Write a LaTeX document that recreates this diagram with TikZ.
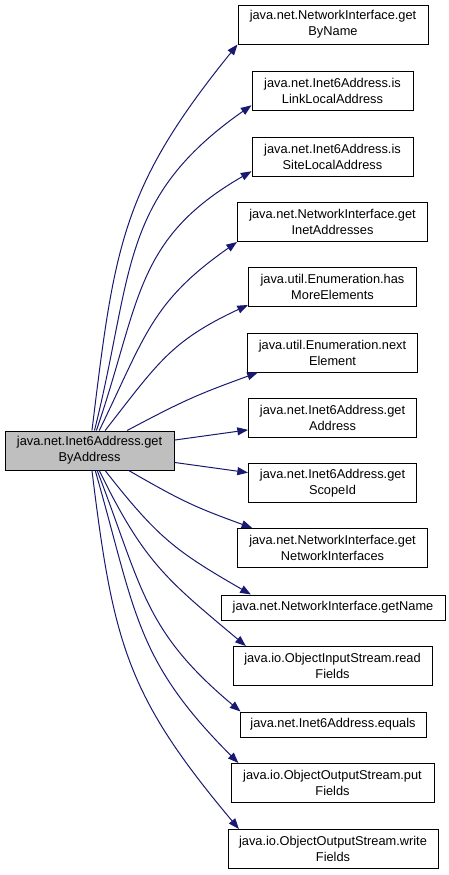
\documentclass[tikz,border=0pt]{standalone}
\usepackage{fontspec}
\setmainfont{Liberation Sans}
\usetikzlibrary{arrows.meta}
\definecolor{edgeblue}{RGB}{25,25,112}
\definecolor{rootgray}{RGB}{191,191,191}

\begin{document}
\begin{tikzpicture}[
  x=0.75pt,y=0.75pt,
  fn/.style={draw=black,line width=0.75pt,fill=white,minimum height=39*0.75pt,inner sep=1pt,align=center,font=\fontsize{9.6}{12}\selectfont},
  single/.style={fn,minimum height=25*0.75pt},
  root/.style={fn,fill=rootgray},
  arr/.style={-{Triangle[length=8pt,width=6pt]},draw=edgeblue,line width=0.75pt,looseness=1.15}
]
\useasboundingbox (0,0) rectangle (449,-875);

\node[root,minimum width=169*0.75pt] (getbyaddr) at (89.5,-450.5) {java.net.Inet6Address.get\\ByAddress};

\node[fn,minimum width=190*0.75pt]     (byname)    at (333,-24.5)  {java.net.NetworkInterface.get\\ByName};
\node[fn,minimum width=161*0.75pt]     (linklocal) at (332.5,-91)  {java.net.Inet6Address.is\\LinkLocalAddress};
\node[fn,minimum width=161*0.75pt]     (sitelocal) at (332.5,-157) {java.net.Inet6Address.is\\SiteLocalAddress};
\node[fn,minimum width=190*0.75pt]     (inetaddrs) at (332.5,-222) {java.net.NetworkInterface.get\\InetAddresses};
\node[fn,minimum width=168*0.75pt]     (hasmore)   at (332.5,-287) {java.util.Enumeration.has\\MoreElements};
\node[fn,minimum width=170*0.75pt]     (nextelem)  at (332.5,-352.5) {java.util.Enumeration.next\\Element};
\node[fn,minimum width=168*0.75pt]     (getaddr)   at (332.5,-418) {java.net.Inet6Address.get\\Address};
\node[fn,minimum width=168*0.75pt]     (scopeid)   at (332.5,-483) {java.net.Inet6Address.get\\ScopeId};
\node[fn,minimum width=190*0.75pt]     (netifs)    at (332.5,-548) {java.net.NetworkInterface.get\\NetworkInterfaces};
\node[single,minimum width=224*0.75pt] (getname)   at (333,-607.5) {java.net.NetworkInterface.getName};
\node[fn,minimum width=199*0.75pt]     (readflds)  at (332.5,-666) {java.io.ObjectInputStream.read\\Fields};
\node[single,minimum width=186*0.75pt] (equals)    at (333,-724.5) {java.net.Inet6Address.equals};
\node[fn,minimum width=203*0.75pt]     (putflds)   at (332.5,-783) {java.io.ObjectOutputStream.put\\Fields};
\node[fn,minimum width=210*0.75pt]     (writeflds) at (333,-849)   {java.io.ObjectOutputStream.write\\Fields};

% calls leaving the top of the caller
\draw[arr] (getbyaddr.83) to[out=83,in=231] (byname.south west);
\draw[arr] (getbyaddr.76) to[out=76,in=215] (linklocal.190);
\draw[arr] (getbyaddr.71) to[out=71,in=210] (sitelocal.190);
\draw[arr] (getbyaddr.64) to[out=64,in=215] (inetaddrs.south west);
\draw[arr] (getbyaddr.52) to[out=52,in=205] (hasmore.192);
\draw[arr] (getbyaddr.28) to[out=28,in=200] (nextelem.195);
% calls leaving the right side
\draw[arr] (getbyaddr.7)   -- (getaddr.188);
\draw[arr] (getbyaddr.352) -- (scopeid.173);
% calls leaving the bottom
\draw[arr] (getbyaddr.333) to[out=-30,in=160] (netifs.166);
\draw[arr] (getbyaddr.308) to[out=-52,in=150] (getname.171);
\draw[arr] (getbyaddr.296) to[out=-64,in=140] (readflds.167);
\draw[arr] (getbyaddr.291) to[out=-69,in=140] (equals.172);
\draw[arr] (getbyaddr.286) to[out=-74,in=135] (putflds.168);
\draw[arr] (getbyaddr.277) to[out=-83,in=130] (writeflds.168);
\end{tikzpicture}
\end{document}
